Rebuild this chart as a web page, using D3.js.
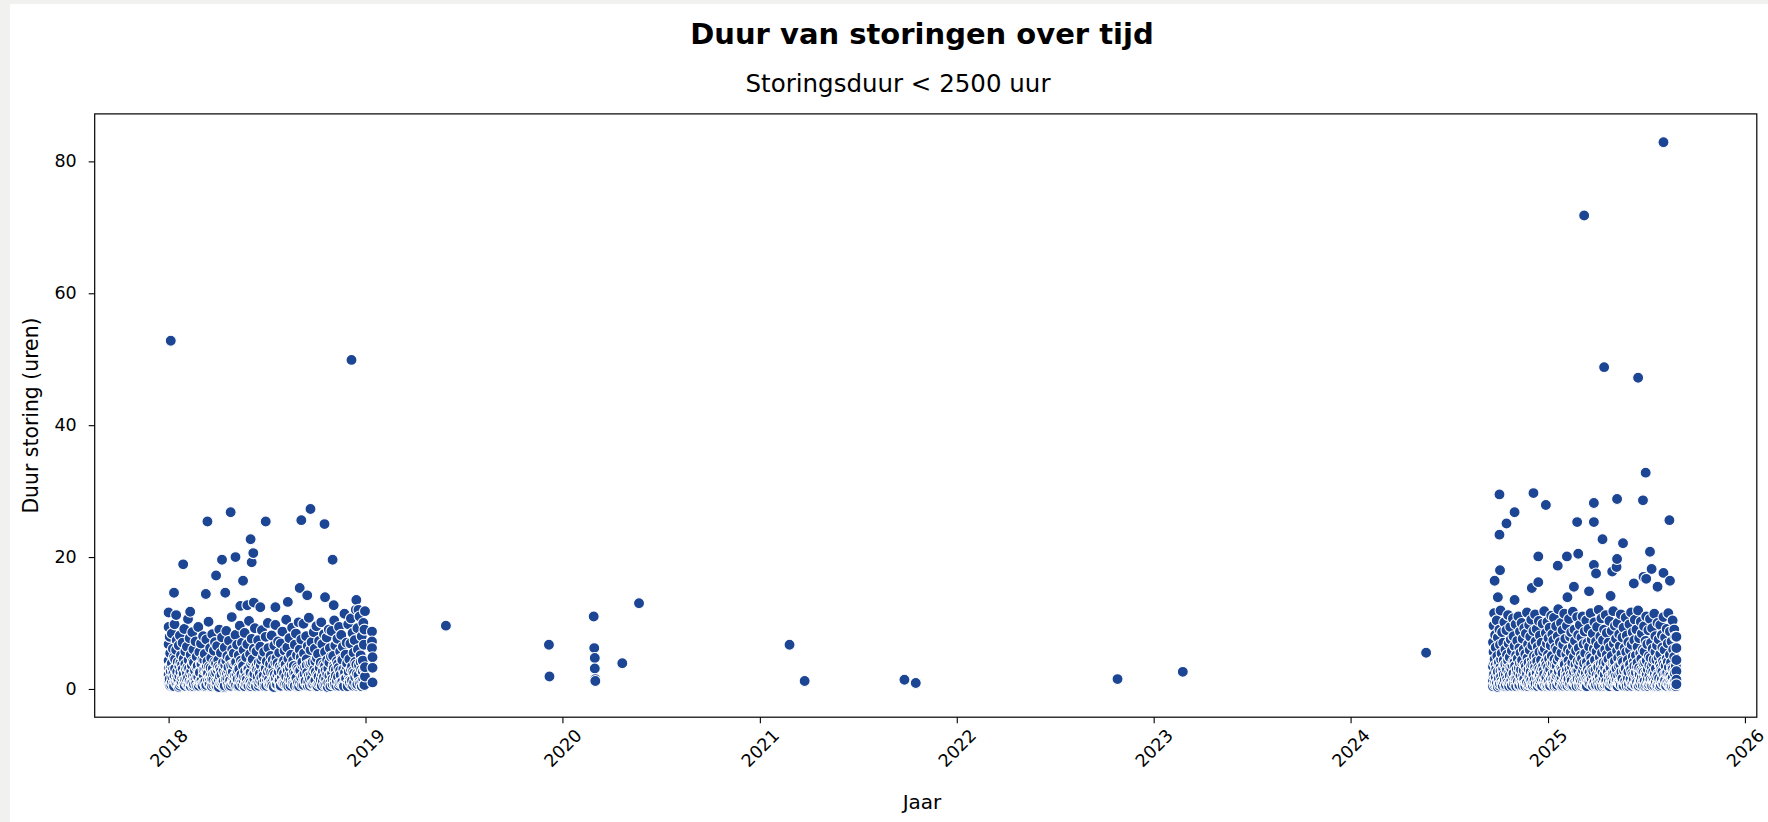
<!DOCTYPE html>
<html>
<head>
<meta charset="utf-8">
<script src="https://cdn.jsdelivr.net/npm/d3@7"></script>
<style>
  html, body { margin: 0; padding: 0; background: #f1f1f0; }
  svg { display: block; }
  text { font-family: "DejaVu Sans", sans-serif; fill: #000; }
</style>
</head>
<body>
<svg id="chart" width="1768" height="822"></svg>
<script>
// ---- data -------------------------------------------------------------
const yTicks = [0, 20, 40, 60, 80];
const xTickYears = [2018, 2019, 2020, 2021, 2022, 2023, 2024, 2025, 2026];

// 2018 reporting period: [day offset from 2018-01-01, duration in hours]
const period2018 = [
[0,2.1],[0,4.3],[0,6.8],[1,0.9],[1,3.2],[2,7.9],[2,1.5],[3,5.4],[4,2.7],[5,0.6],
[6,8.4],[6,3.9],[7,1.8],[8,6.1],[9,2.4],[10,4.8],[10,0.4],[11,9.8],[12,3.1],[13,1.2],
[14,5.9],[15,2.2],[15,7.4],[16,0.8],[17,4.1],[18,1.6],[19,6.6],[20,3.4],[21,0.5],[21,8.1],
[22,2.6],[23,5.1],[24,1.1],[25,3.7],[26,7.0],[27,2.0],[28,0.7],[28,4.6],[29,9.1],[30,1.4],
[31,5.7],[32,2.9],[33,0.9],[34,6.4],[35,3.3],[36,1.7],[36,10.6],[37,4.4],[38,0.6],[39,7.7],
[40,2.3],[41,5.2],[42,1.0],[43,3.6],[44,8.6],[45,2.0],[46,0.4],[46,6.0],[47,4.0],[48,1.5],
[49,2.8],[50,7.2],[51,0.8],[52,4.9],[53,1.9],[54,3.5],[55,9.4],[56,0.5],[57,5.6],[58,2.5],
[59,1.2],[60,6.9],[61,3.8],[62,0.7],[63,4.5],[64,8.0],[65,2.1],[66,1.0],[67,5.3],[68,3.0],
[69,0.4],[70,7.5],[71,2.6],[72,4.2],[73,1.3],[74,10.2],[75,3.4],[76,0.9],[77,6.2],[78,2.0],
[79,4.7],[80,1.6],[81,8.3],[82,3.1],[83,0.6],[84,5.8],[85,2.4],[86,7.1],[87,1.1],[88,3.9],
[89,0.5],[90,6.5],[91,2.9],[92,4.4],[93,1.4],[94,9.0],[95,3.2],[96,0.8],[97,5.5],[98,2.2],
[99,7.8],[100,1.0],[101,4.0],[102,2.7],[103,0.3],[104,6.3],[105,3.6],[106,1.5],[107,8.8],[108,2.3],
[109,5.0],[110,0.7],[111,3.3],[112,7.3],[113,1.8],[114,4.6],[115,0.5],[116,2.5],[117,10.9],[118,6.0],
[119,1.2],[120,3.7],[121,5.4],[122,0.9],[123,2.0],[124,8.2],[125,4.1],[126,1.6],[127,6.7],[128,2.8],
[129,0.4],[130,5.1],[131,3.0],[132,9.6],[133,1.3],[134,4.3],[135,2.2],[136,7.0],[137,0.6],[138,3.5],
[139,5.9],[140,1.9],[141,8.5],[142,2.6],[143,0.8],[144,4.8],[145,1.4],[146,6.8],[147,3.1],[148,0.5],
[149,10.3],[150,2.4],[151,5.3],[152,1.0],[153,3.8],[154,7.6],[155,0.7],[156,4.5],[157,2.1],[158,6.1],
[159,1.5],[160,9.2],[161,3.2],[162,0.4],[163,5.7],[164,2.9],[165,1.1],[166,7.4],[167,4.0],[168,0.9],
[169,2.3],[170,6.4],[171,3.6],[172,1.7],[173,8.9],[174,0.6],[175,4.9],[176,2.7],[177,5.6],[178,1.2],
[179,3.3],[180,7.9],[181,0.5],[182,4.2],[183,2.0],[184,10.0],[185,6.2],[186,1.4],[187,3.0],[188,0.8],
[189,5.0],[190,2.5],[191,8.1],[192,1.0],[193,4.4],[194,3.4],[195,0.3],[196,6.6],[197,2.2],[198,9.7],
[199,1.6],[200,4.7],[201,0.7],[202,3.9],[203,7.2],[204,2.6],[205,5.5],[206,1.3],[207,0.4],[208,6.9],
[209,3.1],[210,1.8],[211,8.7],[212,4.1],[213,0.9],[214,2.4],[215,5.8],[216,1.1],[217,3.7],[218,10.5],
[219,0.6],[220,6.3],[221,2.8],[222,4.6],[223,1.5],[224,7.7],[225,3.2],[226,0.5],[227,5.2],[228,2.1],
[229,9.3],[230,1.2],[231,4.3],[232,3.5],[233,0.8],[234,6.7],[235,2.3],[236,8.4],[237,1.7],[238,5.1],
[239,0.4],[240,3.0],[241,10.1],[242,2.7],[243,6.0],[244,1.0],[245,4.8],[246,7.5],[247,0.6],[248,3.6],
[249,2.0],[250,9.9],[251,5.4],[252,1.4],[253,3.3],[254,0.9],[255,8.0],[256,4.5],[257,2.5],[258,6.5],
[259,1.1],[260,10.8],[261,3.8],[262,0.5],[263,5.9],[264,2.2],[265,7.1],[266,1.6],[267,4.1],[268,0.7],
[269,8.6],[270,3.0],[271,6.1],[272,1.3],[273,2.6],[274,9.5],[275,4.7],[276,0.4],[277,5.3],[278,1.9],
[279,7.3],[280,3.4],[281,0.8],[282,4.0],[283,10.1],[284,2.3],[285,6.8],[286,1.2],[287,3.7],[288,8.3],
[289,0.6],[290,5.6],[291,2.8],[292,1.5],[293,7.8],[294,4.4],[295,0.3],[296,3.1],[297,9.0],[298,2.0],
[299,6.2],[300,1.0],[301,4.9],[302,8.8],[303,2.4],[304,0.7],[305,5.0],[306,3.5],[307,10.4],[308,1.4],
[309,6.6],[310,2.9],[311,0.5],[312,4.2],[313,7.6],[314,1.8],[315,3.2],[316,9.4],[317,0.9],[318,5.7],
[319,2.1],[320,8.2],[321,4.6],[322,1.1],[323,6.4],[324,3.0],[325,0.4],[326,11.4],[327,2.5],[328,5.2],
[329,1.6],[330,7.0],[331,3.9],[332,0.8],[333,9.8],[334,2.2],[335,4.5],[336,1.3],[337,6.9],[338,10.7],
[339,0.6],[340,3.4],[341,8.5],[342,2.7],[343,5.5],[344,1.0],[345,7.4],[346,4.1],[347,12.0],[348,0.5],
[349,2.3],[350,9.2],[351,6.0],[352,1.7],[353,3.6],[354,11.0],[355,0.8],[356,5.1],[357,2.9],[358,8.0],
[359,1.2],[360,4.3],[361,10.0],[362,0.6],[362,6.7],[363,3.1],[363,9.0],[364,1.9],[364,11.8],
// short outages
[1,1.3],[3,0.5],[4,3.6],[6,1.1],[8,2.9],[9,0.7],[11,1.9],[12,4.5],[14,0.9],[16,2.6],
[17,1.4],[19,0.3],[20,2.0],[22,4.0],[23,0.8],[25,1.7],[26,3.0],[28,2.3],[30,0.5],[31,3.8],
[33,1.6],[34,2.4],[36,0.6],[38,3.1],[39,1.2],[41,0.4],[42,2.7],[44,1.0],[45,4.2],[47,0.7],
[48,2.2],[50,1.5],[52,3.3],[53,0.4],[55,1.8],[57,2.6],[58,0.9],[60,3.9],[61,1.3],[63,0.5],
[65,2.9],[66,4.4],[68,1.1],[70,0.6],[71,3.5],[73,2.4],[75,0.8],[76,1.7],[78,3.2],[80,0.4],
[82,2.1],[83,1.4],[85,4.1],[87,0.6],[88,2.5],[90,1.0],[92,3.4],[93,0.3],[95,1.9],[97,2.8],
[98,0.7],[100,3.7],[102,1.2],[104,0.5],[105,2.3],[107,4.3],[109,1.6],[110,2.9],[112,0.4],[114,1.3],
[116,3.6],[118,0.8],[119,2.6],[121,1.1],[123,4.0],[125,0.6],[126,2.2],[128,1.5],[130,3.3],[131,0.5],
[133,2.0],[135,0.9],[137,3.9],[139,1.3],[141,0.4],[142,2.7],[144,1.8],[146,0.7],[148,3.0],[150,1.2],
[152,2.5],[153,0.4],[155,4.2],[157,1.0],[159,2.3],[161,0.6],[163,3.5],[165,1.9],[167,0.5],[168,2.8],
[170,1.3],[172,4.4],[174,0.9],[176,2.0],[178,0.4],[180,3.1],[182,1.5],[184,2.6],[186,0.7],[188,3.8],
[190,1.1],[192,0.5],[194,2.4],[196,1.7],[198,4.0],[200,0.6],[202,2.1],[204,1.3],[206,3.4],[208,0.5],
[210,2.7],[212,1.0],[214,4.3],[216,0.7],[218,1.9],[220,3.0],[222,0.4],[224,2.2],[226,1.4],[228,3.7],
[230,0.8],[232,2.5],[234,0.5],[236,1.6],[238,3.3],[240,1.0],[242,0.4],[244,2.8],[246,1.7],[248,4.1],
[250,0.6],[252,2.3],[254,1.2],[256,3.6],[258,0.5],[260,2.0],[262,1.5],[264,3.9],[266,0.7],[268,2.6],
[270,1.1],[272,4.2],[274,0.4],[276,2.1],[278,0.8],[280,3.2],[282,1.4],[284,0.5],[286,2.7],[288,1.8],
[290,3.5],[292,0.6],[294,2.3],[296,1.0],[298,4.0],[300,0.4],[302,2.5],[304,1.5],[306,3.1],[308,0.7],
[310,2.0],[312,1.2],[314,3.8],[316,0.5],[318,2.8],[320,1.0],[322,4.4],[324,0.6],[326,2.2],[328,1.6],
[330,3.4],[332,0.4],[334,2.6],[336,0.9],[338,3.0],[340,1.3],[342,0.5],[344,2.4],[346,1.8],[348,3.7],
[350,0.7],[352,2.1],[354,1.1],[356,4.1],[358,0.4],[360,2.7],[361,1.5],[363,0.6],[364,3.3],
// longer outages in 2018
[0,11.6],[0,9.4],[4,52.8],[10,14.6],[27,18.9],[14,11.2],[40,11.7],
[69,14.4],[72,25.4],[88,17.2],[99,19.6],[105,14.6],[115,26.8],[124,20.0],[133,12.6],
[138,16.4],[152,22.7],[154,19.2],[157,20.6],[158,13.1],[146,12.7],[170,12.4],
[180,25.4],[198,12.4],[221,13.2],[243,15.3],[246,25.6],[257,14.2],[263,27.3],
[289,25.0],[290,13.9],[304,19.6],[306,12.7],[339,49.9],[348,13.5],[352,12.0],
// first days of 2019
[377,8.7],[377,7.2],[377,6.2],[378,4.8],[378,3.2],[378,1.0]
];

// 2024-2025 reporting period: [day offset from 2025-01-01, duration in hours]
const period2025 = [
[-102,3.4],[-102,7.1],[-102,1.2],[-101,5.6],[-101,9.6],[-100,2.3],[-100,11.5],[-99,0.6],[-99,4.5],[-98,8.2],
[-97,1.8],[-97,6.3],[-96,3.0],[-95,10.4],[-95,0.9],[-94,5.0],[-93,2.6],[-93,7.8],[-92,1.4],[-91,4.1],
[-90,9.0],[-90,0.5],[-89,6.7],[-88,3.3],[-88,11.9],[-87,1.9],[-86,5.4],[-85,8.6],[-85,0.8],[-84,2.8],
[-83,7.0],[-82,4.4],[-82,1.1],[-81,10.1],[-80,3.6],[-79,6.0],[-79,0.4],[-78,2.2],[-77,8.9],[-76,5.2],
[-76,1.5],[-75,3.9],[-74,11.2],[-73,0.7],[-73,6.9],[-72,2.5],[-71,4.8],[-70,9.4],[-70,1.0],[-69,7.5],
[-68,3.1],[-67,5.8],[-67,0.6],[-66,2.0],[-65,10.7],[-64,4.2],[-64,8.0],[-63,1.3],[-62,6.5],[-61,3.5],
[-60,0.9],[-60,9.8],[-59,5.1],[-58,2.4],[-57,7.3],[-57,1.7],[-56,4.6],[-55,11.0],[-54,0.5],[-54,3.2],
[-53,6.2],[-52,8.7],[-51,1.2],[-51,5.5],[-50,2.9],[-49,10.0],[-48,0.8],[-48,4.0],[-47,7.6],[-46,2.1],
[-45,6.0],[-45,1.4],[-44,9.2],[-43,3.7],[-42,0.4],[-42,5.3],[-41,8.4],[-40,2.6],[-39,11.6],[-39,1.0],
[-38,4.7],[-37,6.8],[-36,3.0],[-36,0.7],[-35,9.7],[-34,5.9],[-33,1.8],[-33,7.9],[-32,3.4],[-31,10.5],
[-30,0.6],[-30,4.3],[-29,6.6],[-28,2.3],[-27,8.8],[-27,1.1],[-26,5.0],[-25,3.8],[-24,11.3],[-24,0.5],
[-23,7.2],[-22,2.7],[-21,4.9],[-21,9.1],[-20,1.6],[-19,6.4],[-18,3.3],[-18,0.9],[-17,10.3],[-16,5.6],
[-15,2.0],[-15,8.1],[-14,1.3],[-13,4.4],[-12,7.0],[-12,0.4],[-11,3.1],[-10,9.9],[-9,5.7],[-9,1.9],
[-8,2.8],[-7,11.8],[-6,0.8],[-6,6.1],[-5,4.1],[-4,8.5],[-4,1.5],[-3,3.6],[-2,6.9],[-1,0.6],
[-1,10.2],[0,2.4],[0,5.2],[1,7.7],[2,1.2],[2,4.6],[3,9.3],[4,3.0],[4,0.5],[5,6.6],
[6,11.1],[7,2.1],[7,5.0],[8,8.3],[9,1.0],[9,3.9],[10,7.4],[11,0.7],[11,10.8],[12,4.5],
[13,2.6],[14,6.3],[14,1.6],[15,9.5],[16,3.5],[16,0.4],[17,5.9],[18,8.0],[19,2.2],[19,12.1],
[20,1.1],[21,4.8],[22,7.1],[22,0.8],[23,3.2],[24,10.0],[25,5.5],[25,1.8],[26,2.9],[27,8.9],
[28,0.5],[28,6.7],[29,4.0],[30,11.4],[31,1.4],[31,3.7],[32,7.6],[33,2.5],[34,5.3],[34,0.9],
[35,9.6],[36,2.0],[37,6.0],[37,1.2],[38,4.3],[39,10.6],[40,3.0],[40,0.6],[41,7.9],[42,5.6],
[43,1.7],[43,8.6],[44,3.4],[45,0.4],[46,6.5],[46,11.7],[47,2.3],[48,4.9],[49,1.0],[49,9.0],
[50,7.3],[51,3.1],[52,0.8],[52,5.8],[53,2.7],[54,10.9],[55,1.5],[55,4.2],[56,8.2],[57,6.2],
[58,0.5],[58,3.6],[59,9.7],[60,2.1],[61,5.1],[61,1.1],[62,7.8],[63,4.6],[64,0.7],[64,11.0],
[65,2.8],[66,6.8],[67,1.6],[67,3.9],[68,8.7],[69,5.4],[70,0.4],[70,2.4],[71,10.4],[72,4.1],
[73,7.0],[73,1.3],[74,3.3],[75,9.1],[76,0.9],[76,6.4],[77,2.6],[78,5.0],[79,11.5],[79,1.8],
[80,4.7],[81,7.5],[82,0.6],[82,3.0],[83,8.4],[84,2.0],[85,6.1],[85,1.0],[86,10.1],[87,4.4],
[88,2.9],[88,0.5],[89,7.2],[90,5.7],[91,1.4],[91,9.4],[92,3.5],[93,0.8],[94,6.6],[94,12.0],
[95,2.2],[96,4.8],[97,1.1],[97,8.0],[98,3.8],[99,10.7],[100,0.4],[100,5.5],[101,2.5],[102,7.4],
[103,1.7],[103,4.0],[104,9.0],[105,0.7],[106,6.0],[106,3.2],[107,11.2],[108,1.2],[109,5.2],[109,8.5],
[110,2.7],[111,0.5],[112,4.5],[112,7.0],[113,1.9],[114,10.3],[115,3.4],[115,6.3],[116,0.9],[117,2.1],
[118,8.8],[118,5.0],[119,1.3],[120,3.9],[121,11.8],[121,0.6],[122,6.9],[123,2.4],[124,4.2],[124,9.6],
[125,1.5],[126,7.6],[127,3.1],[127,0.4],[128,5.8],[129,10.0],[130,2.0],[130,4.7],[131,1.0],[132,8.3],
[133,6.5],[133,0.8],[134,3.7],[135,11.3],[136,2.6],[136,5.3],[137,1.4],[138,7.8],[139,0.5],[139,4.1],
[140,9.3],[141,2.8],[142,6.2],[142,1.1],[143,3.3],[144,10.8],[145,0.7],[145,5.6],[146,8.1],[147,2.3],
[148,4.4],[148,1.6],[149,7.1],[150,0.4],[151,3.6],[151,9.8],[152,5.9],[153,1.2],[154,2.9],[154,11.6],
[155,6.7],[156,0.9],[157,4.9],[157,8.6],[158,2.1],[159,1.5],[160,7.4],[160,3.5],[161,10.5],[162,0.6],
[163,5.1],[163,2.5],[164,9.0],[165,1.0],[166,6.4],[166,4.0],[167,11.9],[168,0.5],[169,3.2],[169,7.7],
[170,2.2],[171,5.4],[172,1.3],[172,10.2],[173,4.6],[174,8.4],[175,0.8],[175,2.7],[176,6.0],[177,3.9],
[178,1.7],[178,9.5],[179,5.7],[180,0.4],[181,2.4],[181,7.3],[182,11.0],[183,4.3],[184,1.1],[184,6.8],
[185,3.0],[186,8.9],[187,0.7],[187,5.0],[188,2.0],[189,10.6],[190,4.7],[190,1.4],[191,7.0],[192,3.4],
[193,0.5],[193,9.2],[194,6.1],[195,2.6],[196,1.2],[196,4.5],[197,11.4],[198,0.9],[199,5.6],[199,8.0],
[200,3.1],[201,1.8],[202,6.6],[202,0.4],[203,10.0],[204,2.3],[205,4.8],[205,7.5],[206,1.0],[207,3.7],
[208,9.7],[208,5.3],[209,0.6],[210,2.8],[211,8.2],[211,1.5],[212,6.3],[213,4.2],[214,0.8],[214,10.9],
[215,2.1],[216,5.9],[217,1.3],[217,7.8],[218,3.5],[219,0.5],[220,9.1],[220,4.6],[221,2.5],[222,6.9],
[223,1.1],[223,11.5],[224,3.3],[225,0.7],[226,5.2],[226,8.7],[227,2.0],[228,4.0],[229,1.6],[229,7.2],
[230,0.4],[231,10.4],[231,3.0],[232,6.0],[233,1.0],[234,9.0],[234,4.9],[235,2.4],[236,0.6],[236,7.9],
[238,7.9],[238,6.2],[238,4.4],[238,2.7],[238,1.4],[238,0.7],
// short outages
[-102,0.4],[-101,2.0],[-100,4.0],[-98,1.0],[-97,3.6],[-96,0.6],[-94,2.4],[-93,0.3],[-92,3.9],[-91,1.6],
[-89,0.8],[-88,2.7],[-87,4.5],[-86,1.2],[-84,0.5],[-83,3.1],[-82,2.2],[-80,1.4],[-79,3.8],[-78,0.6],
[-76,2.9],[-75,1.0],[-74,4.3],[-72,0.4],[-71,2.0],[-70,3.3],[-68,1.3],[-67,0.5],[-66,3.6],[-64,2.4],
[-63,0.8],[-62,4.1],[-60,1.7],[-59,0.4],[-58,3.0],[-56,1.1],[-55,2.5],[-53,0.6],[-52,3.9],[-51,2.0],
[-49,1.2],[-48,4.4],[-47,0.5],[-45,2.8],[-44,1.5],[-43,0.7],[-41,3.4],[-40,1.0],[-39,2.3],[-37,0.4],
[-36,4.0],[-35,1.8],[-33,0.6],[-32,2.6],[-31,1.3],[-29,3.7],[-28,0.5],[-27,2.1],[-25,1.4],[-24,3.2],
[-23,0.8],[-21,2.4],[-20,4.2],[-19,0.4],[-17,1.9],[-16,3.0],[-15,0.7],[-13,2.7],[-12,1.6],[-11,0.5],
[-9,3.5],[-8,1.1],[-7,2.2],[-5,0.6],[-4,4.1],[-3,1.8],[-2,0.4],[0,3.3],[1,1.0],[2,2.6],
[3,0.5],[5,1.7],[6,3.8],[8,0.8],[9,2.3],[10,1.4],[12,0.4],[13,3.6],[15,1.2],[16,2.0],
[17,0.6],[18,4.3],[20,2.7],[21,0.9],[23,1.6],[24,3.1],[26,0.4],[27,2.4],[29,1.1],[30,3.9],
[32,0.6],[33,1.8],[35,2.9],[36,0.5],[38,1.5],[39,3.4],[41,0.8],[42,2.2],[44,1.3],[45,4.0],
[47,0.5],[48,2.6],[50,1.0],[51,3.7],[53,0.4],[54,1.9],[56,2.8],[57,0.7],[59,1.4],[60,4.2],
[62,0.5],[63,2.3],[65,1.2],[66,3.5],[68,0.6],[69,2.0],[71,1.6],[72,0.4],[74,3.0],[75,1.1],
[77,2.5],[78,0.8],[80,3.8],[81,1.5],[83,0.5],[84,2.7],[86,1.0],[87,4.4],[89,0.6],[90,2.1],
[92,1.3],[93,3.3],[95,0.4],[96,1.8],[98,2.9],[99,0.7],[101,1.4],[102,3.6],[104,0.5],[105,2.2],
[107,1.0],[108,4.0],[110,0.6],[111,2.6],[113,1.2],[114,0.4],[116,3.2],[117,1.7],[119,0.8],[120,2.4],
[122,1.1],[123,3.9],[125,0.5],[126,2.0],[128,1.4],[129,0.4],[131,3.5],[132,1.0],[134,2.3],[135,0.6],
[137,4.3],[138,1.6],[140,0.5],[141,2.8],[143,1.2],[144,3.1],[146,0.4],[147,1.9],[149,2.6],[150,0.8],
[152,3.7],[153,1.5],[155,0.5],[156,2.4],[158,1.0],[159,4.1],[161,0.6],[162,2.1],[164,1.3],[165,3.4],
[167,0.4],[168,2.7],[170,1.1],[171,0.7],[173,3.0],[174,1.8],[176,0.5],[177,2.5],[179,1.2],[180,4.0],
[182,0.6],[183,2.2],[185,1.5],[186,0.4],[188,3.6],[189,1.0],[191,2.8],[192,0.7],[194,1.4],[195,3.9],
[197,0.5],[198,2.3],[200,1.1],[201,4.4],[203,0.6],[204,2.0],[206,1.6],[207,0.4],[209,3.3],[210,1.2],
[212,2.6],[213,0.8],[215,3.8],[216,1.4],[218,0.5],[219,2.4],[221,1.0],[222,4.1],[224,0.6],[225,2.1],
[227,1.3],[228,0.4],[230,3.2],[231,1.7],[233,0.5],[234,2.7],[235,1.1],[237,3.5],[237,0.4],
// longer outages 2024-2025
[-99,16.4],[-93,13.9],[-90,29.5],[-90,23.4],[-89,18.0],[-77,25.1],[-62,26.8],[-62,13.5],
[-30,15.3],[-27,29.7],[-18,20.1],[-18,16.2],[-4,27.9],[18,18.7],[35,20.1],[36,13.9],
[48,15.5],[54,25.3],[56,20.5],[67,71.8],[76,14.8],[85,28.2],[85,25.3],[85,18.8],
[89,17.5],[101,22.7],[104,48.8],[116,14.1],[119,17.8],[127,18.5],[128,28.8],[128,19.7],
[139,22.1],[159,16.0],[167,47.2],[176,28.6],[177,17.0],[181,32.8],[182,16.7],[189,20.8],
[192,18.2],[203,15.5],[214,82.9],[214,17.6],[225,25.6],[226,16.4]
];

// isolated outages between the two periods
const isolatedDates = [
  "2019-05-30", "2019-12-07", "2019-12-08",
  "2020-02-28", "2020-02-29", "2020-03-01", "2020-03-01", "2020-03-02", "2020-03-02",
  "2020-04-21", "2020-05-22", "2021-02-25", "2021-03-25",
  "2021-09-26", "2021-10-17", "2022-10-26", "2023-02-24", "2024-05-20"
];
const isolatedHours = [
  9.6, 6.7, 1.9,
  11.0, 6.2, 4.7, 3.1, 1.5, 1.2,
  3.9, 13.0, 6.7, 1.2,
  1.4, 0.9, 1.5, 2.6, 5.5
];

// ---- assemble records ------------------------------------------------
const base2018 = new Date(Date.UTC(2018, 0, 1));
const base2025 = new Date(Date.UTC(2025, 0, 1));
const records = [];
period2018.forEach(([d, h]) => records.push({ date: d3.utcDay.offset(base2018, d), hours: h }));
isolatedDates.forEach((s, i) => records.push({ date: d3.utcParse("%Y-%m-%d")(s), hours: isolatedHours[i] }));
period2025.forEach(([d, h]) => records.push({ date: d3.utcDay.offset(base2025, d), hours: h }));
records.sort((a, b) => a.date - b.date);

// ---- layout ----------------------------------------------------------
const svg = d3.select("#chart");
const plot = { left: 94.7, right: 1756.8, top: 113.9, bottom: 717.2 };

svg.append("rect").attr("x", 10).attr("y", 4).attr("width", 1758).attr("height", 818).attr("fill", "#fff");

const x = d3.scaleUtc()
  .domain([new Date(Date.UTC(2017, 7, 17)), new Date(Date.UTC(2026, 0, 23))])
  .range([plot.left, plot.right]);
const y = d3.scaleLinear()
  .domain([-4.28, 87.2])
  .range([plot.bottom, plot.top]);

// points
svg.append("g")
  .selectAll("circle")
  .data(records)
  .join("circle")
  .attr("cx", d => x(d.date))
  .attr("cy", d => y(d.hours))
  .attr("r", 5.5)
  .attr("fill", "#1c4594")
  .attr("stroke", "#fff")
  .attr("stroke-width", 1.1);

// axes
const yAxis = d3.axisLeft(y).tickValues(yTicks).tickSize(6).tickPadding(12);
const gy = svg.append("g").attr("transform", `translate(${plot.left},0)`).call(yAxis);
gy.select(".domain").remove();
gy.selectAll("text").style("font-size", "17.5px").style("font-family", "DejaVu Sans").attr("fill", "#000");
gy.selectAll("line").attr("stroke", "#000").attr("stroke-width", 1.1);

const xAxis = d3.axisBottom(x)
  .tickValues(xTickYears.map(yr => new Date(Date.UTC(yr, 0, 1))))
  .tickFormat(d3.utcFormat("%Y"))
  .tickSize(6);
const gx = svg.append("g").attr("transform", `translate(0,${plot.bottom})`).call(xAxis);
gx.select(".domain").remove();
gx.selectAll("line").attr("stroke", "#000").attr("stroke-width", 1.1);
gx.selectAll("text")
  .style("font-size", "17.5px").style("font-family", "DejaVu Sans").attr("fill", "#000")
  .attr("text-anchor", "middle")
  .attr("dy", null)
  .attr("dominant-baseline", "central")
  .attr("y", 31)
  .attr("transform", "rotate(-45, 0, 31)");

// frame
svg.append("rect")
  .attr("x", plot.left).attr("y", plot.top)
  .attr("width", plot.right - plot.left).attr("height", plot.bottom - plot.top)
  .attr("fill", "none").attr("stroke", "#000").attr("stroke-width", 1.2);

// titles
svg.append("text").attr("x", 922).attr("y", 34).attr("text-anchor", "middle")
  .attr("dominant-baseline", "central")
  .style("font-size", "29px").style("font-weight", "bold")
  .text("Duur van storingen over tijd");
svg.append("text").attr("x", 898).attr("y", 83.5).attr("text-anchor", "middle")
  .attr("dominant-baseline", "central")
  .style("font-size", "24.5px")
  .text("Storingsduur < 2500 uur");
svg.append("text").attr("x", 922).attr("y", 801.5).attr("text-anchor", "middle")
  .attr("dominant-baseline", "central")
  .style("font-size", "20px")
  .text("Jaar");
svg.append("text")
  .attr("transform", `translate(31, ${(plot.top + plot.bottom) / 2}) rotate(-90)`)
  .attr("text-anchor", "middle").attr("dominant-baseline", "central")
  .style("font-size", "20.4px")
  .text("Duur storing (uren)");
</script>
</body>
</html>
